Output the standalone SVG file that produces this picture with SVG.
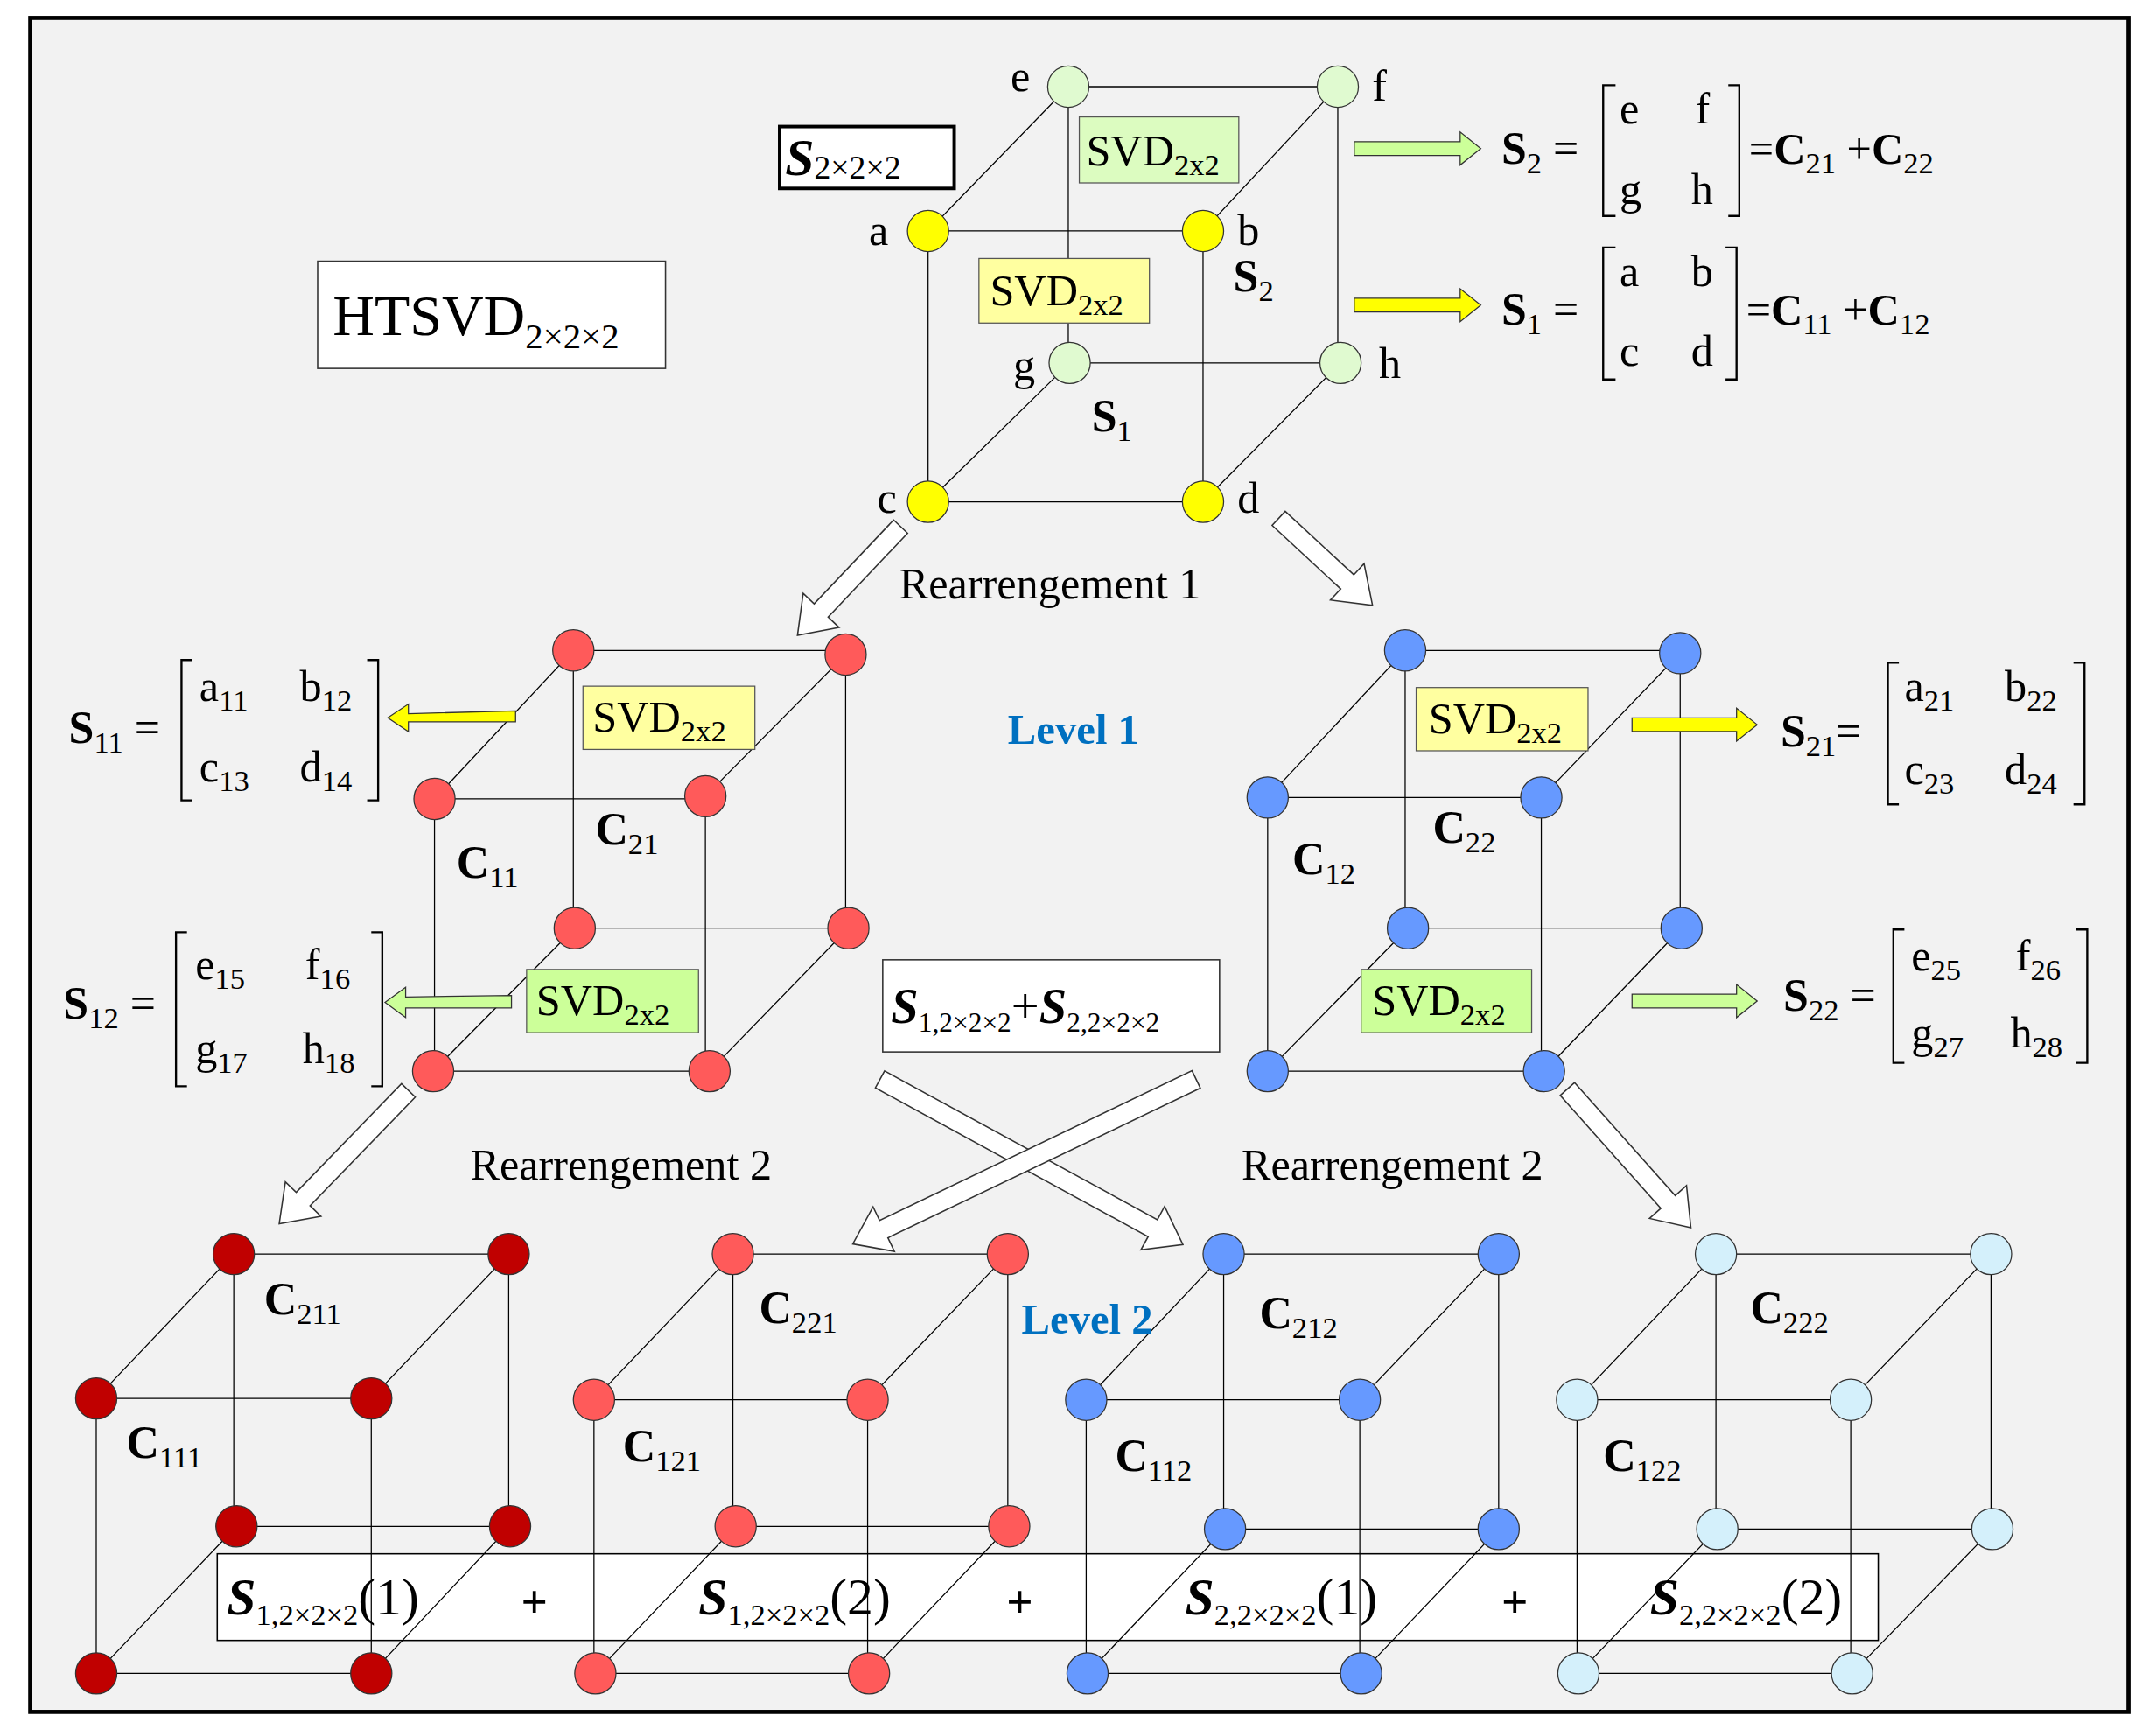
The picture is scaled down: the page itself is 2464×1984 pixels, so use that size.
<svg xmlns="http://www.w3.org/2000/svg" width="2464" height="1984" viewBox="0 0 2464 1984">
<style>
text{font-family:"Liberation Serif","Times New Roman",serif;fill:#000}
.e{stroke:#000;stroke-width:0.8;fill:none}
.n{stroke:#333;stroke-width:0.8}
.y{fill:#ffff00}.g{fill:#e0fad0}.ga{fill:#ccff99}.r{fill:#ff5a5a}.dr{fill:#c00000}.b{fill:#6699ff}.lb{fill:#d4f0fb}
.t{font-size:32px}.bt{font-size:33px;font-weight:bold}
.s{font-size:22px;font-weight:normal}
.hol{fill:#fff;stroke:#333;stroke-width:1}
.br{stroke:#000;stroke-width:1.5;fill:none}
.lv{font-size:31px;font-weight:bold;fill:#0070c0}
</style>
<g transform="scale(1.5714)">
<rect x="22" y="13" width="1526" height="1232" fill="#f2f2f2" stroke="#000" stroke-width="3"/>
<g id="bottombox"><rect x="158" y="1130" width="1208" height="63" fill="#fff" stroke="#000" stroke-width="1"/></g>
<g id="connectors">
<path class="e" d="M675,168H875M675,365H875M675,168V365M875,168V365M777,63H973M778,264H975M777,63V264M973,63V264M675,168L777,63M875,168L973,63M675,365L778,264M875,365L975,264"/>
<path class="e" d="M417,473H615M316,581H513M418,675H617M315,779H516M417,473V675M615,476V675M316,581V779M513,579V779M316,581L417,473M513,579L615,476M315,779L418,675M516,779L617,675"/>
<path class="e" d="M1022,473H1222M922,580H1121M1024,675H1223M922,779H1123M1022,473V675M1222,475V675M922,580V779M1121,580V779M922,580L1022,473M1121,580L1222,475M922,779L1024,675M1123,779L1223,675"/>
<path class="e" d="M170,912H370M70,1017H270M172,1110H371M70,1217H270M170,912V1110M370,912V1110M70,1017V1217M270,1017V1217M70,1017L170,912M270,1017L370,912M70,1217L172,1110M270,1217L371,1110"/>
<path class="e" d="M533,912H733M432,1018H631M535,1110H734M433,1217H632M533,912V1110M733,912V1110M432,1018V1217M631,1018V1217M432,1018L533,912M631,1018L733,912M433,1217L535,1110M632,1217L734,1110"/>
<path class="e" d="M890,912H1090M790,1018H989M891,1112H1090M791,1217H990M890,912V1112M1090,912V1112M790,1018V1217M989,1018V1217M790,1018L890,912M989,1018L1090,912M791,1217L891,1112M990,1217L1090,1112"/>
<path class="e" d="M1248,912H1448M1147,1018H1346M1249,1112H1449M1148,1217H1347M1248,912V1112M1448,912V1112M1147,1018V1217M1346,1018V1217M1147,1018L1248,912M1346,1018L1448,912M1148,1217L1249,1112M1347,1217L1449,1112"/>
<polygon class="ga" stroke="#333" stroke-width="0.8" points="985,103 1062,103 1062,96 1077,108 1062,120 1062,113 985,113"/>
<polygon class="y" stroke="#333" stroke-width="0.8" points="985,217 1062,217 1062,210 1077,222 1062,234 1062,227 985,227"/>
<polygon class="y" stroke="#333" stroke-width="0.8" points="375,517 297,519 297,512 282,522 297,532 297,525 375,525"/>
<polygon class="ga" stroke="#333" stroke-width="0.8" points="372,724 295,725 295,718 280,729 295,740 295,733 372,733"/>
<polygon class="y" stroke="#333" stroke-width="0.8" points="1187,522 1263,522 1263,515 1278,527 1263,539 1263,532 1187,532"/>
<polygon class="ga" stroke="#333" stroke-width="0.8" points="1187,723 1263,723 1263,716 1278,728 1263,740 1263,733 1187,733"/>
<polygon class="hol" transform="translate(655,383) rotate(133.5)" points="0,-7 84,-7 84,-18 109,0 84,18 84,7 0,7"/>
<polygon class="hol" transform="translate(930,377) rotate(42.8)" points="0,-7 68,-7 68,-18 93,0 68,18 68,7 0,7"/>
<polygon class="hol" transform="translate(297,793) rotate(134.1)" points="0,-7 110,-7 110,-18 135,0 110,18 110,7 0,7"/>
<polygon class="hol" transform="translate(640,785) rotate(28.6)" points="0,-7 226,-7 226,-18 251,0 226,18 226,7 0,7"/>
<polygon class="hol" transform="translate(870,785) rotate(154.4)" points="0,-7 252,-7 252,-18 277,0 252,18 252,7 0,7"/>
<polygon class="hol" transform="translate(1140,792) rotate(48.3)" points="0,-7 110,-7 110,-18 135,0 110,18 110,7 0,7"/>
</g>
<g id="top-cube">
<circle class="n y" cx="675" cy="168" r="15"/><circle class="n y" cx="875" cy="168" r="15"/>
<circle class="n y" cx="675" cy="365" r="15"/><circle class="n y" cx="875" cy="365" r="15"/>
<circle class="n g" cx="777" cy="63" r="15"/><circle class="n g" cx="973" cy="63" r="15"/>
<circle class="n g" cx="778" cy="264" r="15"/><circle class="n g" cx="975" cy="264" r="15"/>
<text class="t" x="735" y="66">e</text><text class="t" x="998" y="73">f</text>
<text class="t" x="632" y="178">a</text><text class="t" x="900" y="178">b</text>
<text class="t" x="638" y="373">c</text><text class="t" x="900" y="373">d</text>
<text class="t" x="737" y="276">g</text><text class="t" x="1003" y="275">h</text>
<text class="bt" x="897" y="212">S<tspan class="s" dy="7">2</tspan></text>
<text class="bt" x="794" y="314">S<tspan class="s" dy="7">1</tspan></text>
</g>
<g id="svd-top">
<rect x="785" y="85" width="116" height="48" fill="#dcfcc0" stroke="#555" stroke-width="0.8"/>
<text class="t" x="790" y="120">SVD<tspan class="s" dy="7">2x2</tspan></text>
<rect x="712" y="188" width="124" height="47" fill="#ffffa0" stroke="#555" stroke-width="0.8"/>
<text class="t" x="720" y="222">SVD<tspan class="s" dy="7">2x2</tspan></text>
</g>
<g id="s-box">
<rect x="567" y="92" width="127" height="45" fill="#fff" stroke="#000" stroke-width="2.5"/>
<text x="571" y="127" style="font-size:38px;font-style:italic;font-weight:bold">S<tspan style="font-size:24px;font-style:normal;font-weight:normal" dy="3">2×2×2</tspan></text>
</g>
<g id="htsvd">
<rect x="231" y="190" width="253" height="78" fill="#fff" stroke="#333" stroke-width="1"/>
<text x="242" y="244" style="font-size:42px">HTSVD<tspan style="font-size:26px" dy="9">2×2×2</tspan></text>
</g>
<g id="eq-top">
<text class="bt" x="1092" y="119">S<tspan class="s" dy="7">2</tspan><tspan style="font-weight:normal" dy="-7"> =</tspan></text>
<path class="br" d="M1175,62H1166V157H1175M1257,62H1265V157H1257"/>
<text class="t" x="1178" y="90">e</text><text class="t" x="1233" y="90">f</text>
<text class="t" x="1178" y="148">g</text><text class="t" x="1230" y="148">h</text>
<text class="t" x="1272" y="119">=<tspan font-weight="bold">C</tspan><tspan class="s" dy="7">21</tspan><tspan dy="-7"> +</tspan><tspan font-weight="bold">C</tspan><tspan class="s" dy="7">22</tspan></text>
<text class="bt" x="1092" y="236">S<tspan class="s" dy="7">1</tspan><tspan style="font-weight:normal" dy="-7"> =</tspan></text>
<path class="br" d="M1175,180H1166V276H1175M1255,180H1263V276H1255"/>
<text class="t" x="1178" y="208">a</text><text class="t" x="1230" y="208">b</text>
<text class="t" x="1178" y="266">c</text><text class="t" x="1230" y="266">d</text>
<text class="t" x="1270" y="236">=<tspan font-weight="bold">C</tspan><tspan class="s" dy="7">11</tspan><tspan dy="-7"> +</tspan><tspan font-weight="bold">C</tspan><tspan class="s" dy="7">12</tspan></text>
</g>
<text class="t" x="654" y="435">Rearrengement 1</text>
<text class="lv" x="733" y="541">Level 1</text>
<g id="left-cube">
<circle class="n r" cx="417" cy="473" r="15"/><circle class="n r" cx="615" cy="476" r="15"/>
<circle class="n r" cx="316" cy="581" r="15"/><circle class="n r" cx="513" cy="579" r="15"/>
<circle class="n r" cx="418" cy="675" r="15"/><circle class="n r" cx="617" cy="675" r="15"/>
<circle class="n r" cx="315" cy="779" r="15"/><circle class="n r" cx="516" cy="779" r="15"/>
<text class="bt" x="332" y="638">C<tspan class="s" dy="7">11</tspan></text>
<text class="bt" x="433" y="614">C<tspan class="s" dy="7">21</tspan></text>
<rect x="424" y="499" width="125" height="46" fill="#ffffa0" stroke="#555" stroke-width="0.8"/>
<text class="t" x="431" y="532">SVD<tspan class="s" dy="7">2x2</tspan></text>
<rect x="383" y="705" width="125" height="46" fill="#ccff99" stroke="#555" stroke-width="0.8"/>
<text class="t" x="390" y="738">SVD<tspan class="s" dy="7">2x2</tspan></text>
</g>
<g id="eq-left">
<text class="bt" x="50" y="540">S<tspan class="s" dy="7">11</tspan><tspan style="font-weight:normal" dy="-7"> =</tspan></text>
<path class="br" d="M140,480H132V582H140M267,480H275V582H267"/>
<text class="t" x="145" y="510">a<tspan class="s" dy="7">11</tspan></text><text class="t" x="218" y="510">b<tspan class="s" dy="7">12</tspan></text>
<text class="t" x="145" y="568">c<tspan class="s" dy="7">13</tspan></text><text class="t" x="218" y="568">d<tspan class="s" dy="7">14</tspan></text>
<text class="bt" x="46" y="741">S<tspan class="s" dy="7">12</tspan><tspan style="font-weight:normal" dy="-7"> =</tspan></text>
<path class="br" d="M136,678H128V790H136M270,678H278V790H270"/>
<text class="t" x="142" y="712">e<tspan class="s" dy="7">15</tspan></text><text class="t" x="222" y="712">f<tspan class="s" dy="7">16</tspan></text>
<text class="t" x="142" y="773">g<tspan class="s" dy="7">17</tspan></text><text class="t" x="220" y="773">h<tspan class="s" dy="7">18</tspan></text>
</g>
<g id="right-cube">
<circle class="n b" cx="1022" cy="473" r="15"/><circle class="n b" cx="1222" cy="475" r="15"/>
<circle class="n b" cx="922" cy="580" r="15"/><circle class="n b" cx="1121" cy="580" r="15"/>
<circle class="n b" cx="1024" cy="675" r="15"/><circle class="n b" cx="1223" cy="675" r="15"/>
<circle class="n b" cx="922" cy="779" r="15"/><circle class="n b" cx="1123" cy="779" r="15"/>
<text class="bt" x="940" y="636">C<tspan class="s" dy="7">12</tspan></text>
<text class="bt" x="1042" y="613">C<tspan class="s" dy="7">22</tspan></text>
<rect x="1030" y="500" width="125" height="46" fill="#ffffa0" stroke="#555" stroke-width="0.8"/>
<text class="t" x="1039" y="533">SVD<tspan class="s" dy="7">2x2</tspan></text>
<rect x="990" y="705" width="124" height="46" fill="#ccff99" stroke="#555" stroke-width="0.8"/>
<text class="t" x="998" y="738">SVD<tspan class="s" dy="7">2x2</tspan></text>
</g>
<g id="eq-right">
<text class="bt" x="1295" y="543">S<tspan class="s" dy="7">21</tspan><tspan style="font-weight:normal" dy="-7">=</tspan></text>
<path class="br" d="M1381,482H1373V585H1381M1508,482H1516V585H1508"/>
<text class="t" x="1385" y="510">a<tspan class="s" dy="7">21</tspan></text><text class="t" x="1458" y="510">b<tspan class="s" dy="7">22</tspan></text>
<text class="t" x="1385" y="570">c<tspan class="s" dy="7">23</tspan></text><text class="t" x="1458" y="570">d<tspan class="s" dy="7">24</tspan></text>
<text class="bt" x="1297" y="735">S<tspan class="s" dy="7">22</tspan><tspan style="font-weight:normal" dy="-7"> =</tspan></text>
<path class="br" d="M1385,676H1377V773H1385M1510,676H1518V773H1510"/>
<text class="t" x="1390" y="706">e<tspan class="s" dy="7">25</tspan></text><text class="t" x="1466" y="706">f<tspan class="s" dy="7">26</tspan></text>
<text class="t" x="1390" y="762">g<tspan class="s" dy="7">27</tspan></text><text class="t" x="1462" y="762">h<tspan class="s" dy="7">28</tspan></text>
</g>
<g id="mid-box">
<rect x="642" y="698" width="245" height="67" fill="#fff" stroke="#333" stroke-width="1"/>
<text x="648" y="744" style="font-size:36px"><tspan font-style="italic" font-weight="bold">S</tspan><tspan style="font-size:20px" dy="6">1,2×2×2</tspan><tspan dy="-6">+</tspan><tspan font-style="italic" font-weight="bold">S</tspan><tspan style="font-size:20px" dy="6">2,2×2×2</tspan></text>
</g>
<text class="t" x="342" y="858">Rearrengement 2</text>
<text class="t" x="903" y="858">Rearrengement 2</text>
<text class="lv" x="743" y="970">Level 2</text>
<g id="cube-211">
<circle class="n dr" cx="170" cy="912" r="15"/><circle class="n dr" cx="370" cy="912" r="15"/>
<circle class="n dr" cx="70" cy="1017" r="15"/><circle class="n dr" cx="270" cy="1017" r="15"/>
<circle class="n dr" cx="172" cy="1110" r="15"/><circle class="n dr" cx="371" cy="1110" r="15"/>
<circle class="n dr" cx="70" cy="1217" r="15"/><circle class="n dr" cx="270" cy="1217" r="15"/>
<text class="bt" x="192" y="956">C<tspan class="s" dy="7">211</tspan></text>
<text class="bt" x="92" y="1060">C<tspan class="s" dy="7">111</tspan></text>
</g>
<g id="cube-221">
<circle class="n r" cx="533" cy="912" r="15"/><circle class="n r" cx="733" cy="912" r="15"/>
<circle class="n r" cx="432" cy="1018" r="15"/><circle class="n r" cx="631" cy="1018" r="15"/>
<circle class="n r" cx="535" cy="1110" r="15"/><circle class="n r" cx="734" cy="1110" r="15"/>
<circle class="n r" cx="433" cy="1217" r="15"/><circle class="n r" cx="632" cy="1217" r="15"/>
<text class="bt" x="552" y="962">C<tspan class="s" dy="7">221</tspan></text>
<text class="bt" x="453" y="1063">C<tspan class="s" dy="7">121</tspan></text>
</g>
<g id="cube-212">
<circle class="n b" cx="890" cy="912" r="15"/><circle class="n b" cx="1090" cy="912" r="15"/>
<circle class="n b" cx="790" cy="1018" r="15"/><circle class="n b" cx="989" cy="1018" r="15"/>
<circle class="n b" cx="891" cy="1112" r="15"/><circle class="n b" cx="1090" cy="1112" r="15"/>
<circle class="n b" cx="791" cy="1217" r="15"/><circle class="n b" cx="990" cy="1217" r="15"/>
<text class="bt" x="916" y="966">C<tspan class="s" dy="7">212</tspan></text>
<text class="bt" x="811" y="1070">C<tspan class="s" dy="7">112</tspan></text>
</g>
<g id="cube-222">
<circle class="n lb" cx="1248" cy="912" r="15"/><circle class="n lb" cx="1448" cy="912" r="15"/>
<circle class="n lb" cx="1147" cy="1018" r="15"/><circle class="n lb" cx="1346" cy="1018" r="15"/>
<circle class="n lb" cx="1249" cy="1112" r="15"/><circle class="n lb" cx="1449" cy="1112" r="15"/>
<circle class="n lb" cx="1148" cy="1217" r="15"/><circle class="n lb" cx="1347" cy="1217" r="15"/>
<text class="bt" x="1273" y="962">C<tspan class="s" dy="7">222</tspan></text>
<text class="bt" x="1166" y="1070">C<tspan class="s" dy="7">122</tspan></text>
</g>
<g id="sum-text">
<text x="165" y="1174" style="font-size:38px"><tspan font-style="italic" font-weight="bold">S</tspan><tspan style="font-size:22px" dy="8">1,2×2×2</tspan><tspan dy="-8">(1)</tspan></text>
<text x="379" y="1176" style="font-size:34px;font-weight:bold">+</text>
<text x="508" y="1174" style="font-size:38px"><tspan font-style="italic" font-weight="bold">S</tspan><tspan style="font-size:22px" dy="8">1,2×2×2</tspan><tspan dy="-8">(2)</tspan></text>
<text x="732" y="1176" style="font-size:34px;font-weight:bold">+</text>
<text x="862" y="1174" style="font-size:38px"><tspan font-style="italic" font-weight="bold">S</tspan><tspan style="font-size:22px" dy="8">2,2×2×2</tspan><tspan dy="-8">(1)</tspan></text>
<text x="1092" y="1176" style="font-size:34px;font-weight:bold">+</text>
<text x="1200" y="1174" style="font-size:38px"><tspan font-style="italic" font-weight="bold">S</tspan><tspan style="font-size:22px" dy="8">2,2×2×2</tspan><tspan dy="-8">(2)</tspan></text>
</g>
</g>
</svg>
